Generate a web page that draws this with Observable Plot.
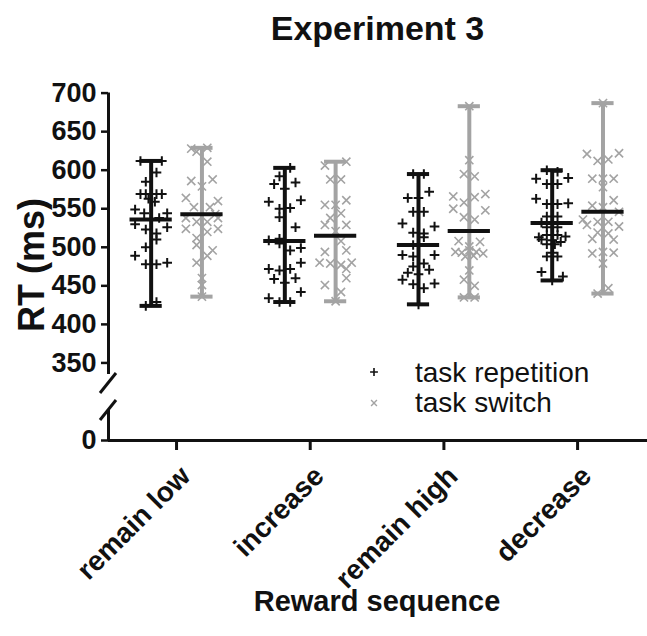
<!DOCTYPE html>
<html>
<head>
<meta charset="utf-8">
<script src="https://cdn.jsdelivr.net/npm/d3@7"></script>
<script src="https://cdn.jsdelivr.net/npm/@observablehq/plot@0.6"></script>
<style>
  body { margin: 0; background: #fff; font-family: "Liberation Sans", Arial, sans-serif; color: #111; }
  #wrap { position: relative; width: 647px; height: 636px; overflow: hidden; }
  #title { position: absolute; left: 108px; width: 539px; top: 11px; line-height: 34px; text-align: center; font-weight: bold; font-size: 34px; color: #111; }
  #chart { position: absolute; left: 0; top: 60px; }
  #overlay { position: absolute; left: 0; top: 0; pointer-events: none; }
</style>
</head>
<body>
<div id="wrap">
  <div id="title">Experiment 3</div>
  <div id="chart"></div>
  <svg id="overlay" width="647" height="636"></svg>
</div>
<script>
// ---------- data ----------
const categories = ["remain low", "increase", "remain high", "decrease"];
const seriesNames = ["task repetition", "task switch"];
const yTicks = [0, 350, 400, 450, 500, 550, 600, 650, 700];
const axisSegments = [[0, 40], [335, 700]];   // broken y axis: lower and upper parts
const yLabel = "RT (ms)";
const xLabel = "Reward sequence";

// [lane (horizontal spread position), RT in ms]
const repRemainLow = [[-2,612],[2,612],[1,597],[-1,585],[-2,569],[-1,569],[1,569],[2,569],[-0.5,563],[0.7,559],[-3,549],[-1.3,544],[3,544],[1.5,538],[-3,530],[3,526],[-1,523],[1,518],[1,510],[-1,500],[-3,489],[3,480],[-1,478],[1,478],[1,429],[-1,424]];
const repIncrease = [[1,603],[-1,592],[-2,582],[2,584],[0,576],[-3,559],[3,561],[-1,550],[1,551],[-1,539],[2,526],[-3,509],[-1,511],[-1,505],[3,499],[1,496],[3,480],[-3,472],[-1,470],[1,472],[2,460],[-2,459],[0,454],[3,442],[-3,434],[-1,429],[1,429]];
const repRemainHigh = [[-1,595],[1,595],[2,572],[-2,564],[0,564],[-1,546],[1,546],[-3,531],[3,527],[-1,519],[1,518],[1,513],[-1,503],[-3,490],[-1,488],[3,490],[-1,475],[1,479],[2,471],[-2,467],[0,465],[-3,458],[-1,452],[1,447],[3,453],[0,426]];
const repDecrease = [[-1,600],[1,598],[-3,589],[3,590],[-1,582],[1,582],[-3,563],[-1,556],[1,556],[3,557],[-1,540],[1,540],[-2,532],[-1,526],[1,526],[-1,516],[1,516],[-2.5,513],[2.5,514],[-2,510],[0,509],[1.6,507],[-1,504],[0.5,504],[0,493],[-1,488],[1,488],[-2,468],[2,462],[0,457]];

const swRemainLow = [[-2,628],[-1,624],[1,629],[1,611],[-2,586],[2,588],[0,579],[-3,564],[3,560],[-1.5,552],[1.5,552],[2.5,543],[-3,538],[3,538],[-1,533],[1,533],[-3,524],[3,524],[1,520],[-1,512],[-1,503],[2,496],[1,489],[-1,480],[0,460],[0,451],[0,436]];
const swIncrease = [[2,611],[-2,606],[-1,588],[1,588],[-2,555],[2,561],[0,555],[1,544],[-1,538],[-2,529],[2,529],[0,521],[1,508],[-2,494],[2,496],[-3,480],[-1,479],[1,477],[3,480],[2,472],[2,460],[-2,451],[1,442],[0,430]];
const swRemainHigh = [[0,683],[0,613],[-1,595],[1,592],[-3,566],[-1,558],[1,565],[3,569],[-3,550],[3,548],[-1,539],[1,536],[-2,508],[2,507],[0,501],[-2.6,494],[-1.4,493],[0,496],[1.3,494],[2.6,492],[-0.75,488],[0.8,489],[0,470],[-1,458],[1,450],[-1,435],[1,435]];
const swDecrease = [[0,687],[-3,621],[3,622],[-1,612],[1,614],[-2,589],[2,589],[0,589],[0,578],[2,561],[-2,554],[0,552],[3,546],[-3.75,536],[-1,533],[1,533],[-3,529],[3,527],[-1,519],[1,518],[-2,511],[2,510],[0,494],[-2,492],[2,493],[0,479],[1,447],[-1,440]];

const meansRep = [536, 508, 503, 531.5];
const meansSwitch = [543, 515, 521, 546];

// ---------- layout / style ----------
const W = 647, H = 576, TOP = 60;
const black = "#111111", gray = "#a3a3a3";
const colors = [black, gray];
const seriesShift = [-0.19, 0.19];   // position of each series within a category (x units)
const laneStep = 0.04;               // horizontal spread step (x units)
const capHalf = 0.083, meanHalf = 0.158;
const xDomain = [-0.509, 3.523];
const yDomain = [0, 40, 335, 700];
const yRange = [380, 350, 314, 32.6];
const font = "Liberation Sans, Arial, sans-serif";

const groups = [[repRemainLow, repIncrease, repRemainHigh, repDecrease],
                [swRemainLow, swIncrease, swRemainHigh, swDecrease]];
const means = [meansRep, meansSwitch];

const points = [];
const summary = [];
groups.forEach((gs, s) => gs.forEach((g, c) => {
  g.forEach(([lane, rt]) => points.push({s, c, x: c + seriesShift[s] + lane * laneStep, rt}));
  summary.push({s, c, x: c + seriesShift[s], min: d3.min(g, d => d[1]), max: d3.max(g, d => d[1]), mean: means[s][c]});
}));
const segs = axisSegments.map(([a, b]) => ({x: xDomain[0], y1: a, y2: b}));

const chart = Plot.plot({
  width: W, height: H,
  marginLeft: 108, marginRight: 0, marginTop: 0, marginBottom: H - 380,
  style: {background: "transparent", color: black, fontFamily: font},
  x: {type: "linear", domain: xDomain},
  y: {type: "linear", domain: yDomain, range: yRange},
  marks: [
    // points
    Plot.dot(points.filter(d => d.s === 0), {x: "x", y: "rt", symbol: "plus", r: 3.2, stroke: black, strokeWidth: 2}),
    Plot.dot(points.filter(d => d.s === 1), {x: "x", y: "rt", symbol: "times", r: 3.8, stroke: gray, strokeWidth: 1.6}),
    // range bars
    Plot.ruleX(summary, {x: "x", y1: "min", y2: "max", stroke: d => colors[d.s], strokeWidth: 4}),
    Plot.ruleY(summary, {y: "max", x1: d => d.x - capHalf, x2: d => d.x + capHalf, stroke: d => colors[d.s], strokeWidth: 4}),
    Plot.ruleY(summary, {y: "min", x1: d => d.x - capHalf, x2: d => d.x + capHalf, stroke: d => colors[d.s], strokeWidth: 4}),
    // means
    Plot.ruleY(summary, {y: "mean", x1: d => d.x - meanHalf, x2: d => d.x + meanHalf, stroke: black, strokeWidth: 4}),
    // axis lines
    Plot.ruleY([0], {stroke: black, strokeWidth: 3}),
    Plot.ruleX(segs, {x: "x", y1: "y1", y2: "y2", stroke: black, strokeWidth: 3}),
    Plot.axisY({ticks: yTicks, tickSize: 7, tickPadding: 5, strokeWidth: 2.5, fontSize: 27, fontWeight: "bold", label: null}),
    Plot.axisX({ticks: [0, 1, 2, 3], tickFormat: () => "", tickSize: 10, strokeWidth: 3, label: null}),
    Plot.axisX({ticks: [0, 1, 2, 3], tickFormat: i => categories[i], tickSize: 0, tickPadding: 14, tickRotate: -45,
                dx: 9, dy: 17, fontSize: 28, fontWeight: "bold", label: null})
  ]
});
document.getElementById("chart").appendChild(chart);

// axis break marks
const ys = chart.scale("y");
const svgC = d3.select(chart);
const breakCenters = [ys.apply(axisSegments[1][0]) + 9, ys.apply(axisSegments[0][1])];
breakCenters.forEach(yc => {
  svgC.append("line").attr("x1", 108 - 8).attr("y1", yc + 10).attr("x2", 108 + 8).attr("y2", yc - 10)
    .attr("stroke", black).attr("stroke-width", 3);
});

// axis titles and legend
const ov = d3.select("#overlay");
ov.append("text").attr("transform", "translate(31,265) rotate(-90)").attr("text-anchor", "middle").attr("dy", "0.36em")
  .attr("font-family", font).attr("font-weight", "bold").attr("font-size", 36).attr("fill", black).text(yLabel);
ov.append("text").attr("x", 377).attr("y", 611).attr("text-anchor", "middle")
  .attr("font-family", font).attr("font-weight", "bold").attr("font-size", 29).attr("fill", black).text(xLabel);

const legendItems = [{sym: d3.symbolPlus, size: 22, color: black, sw: 1.6, name: seriesNames[0], cy: 372, ty: 382},
                     {sym: d3.symbolTimes, size: 24, color: gray, sw: 1.4, name: seriesNames[1], cy: 403, ty: 412}];
legendItems.forEach(it => {
  ov.append("path").attr("d", d3.symbol(it.sym, it.size)()).attr("transform", `translate(374,${it.cy})`)
    .attr("fill", "none").attr("stroke", it.color).attr("stroke-width", it.sw);
  ov.append("text").attr("x", 415).attr("y", it.ty).attr("font-size", 28).attr("fill", black)
    .attr("font-family", font).text(it.name);
});
</script>
</body>
</html>
